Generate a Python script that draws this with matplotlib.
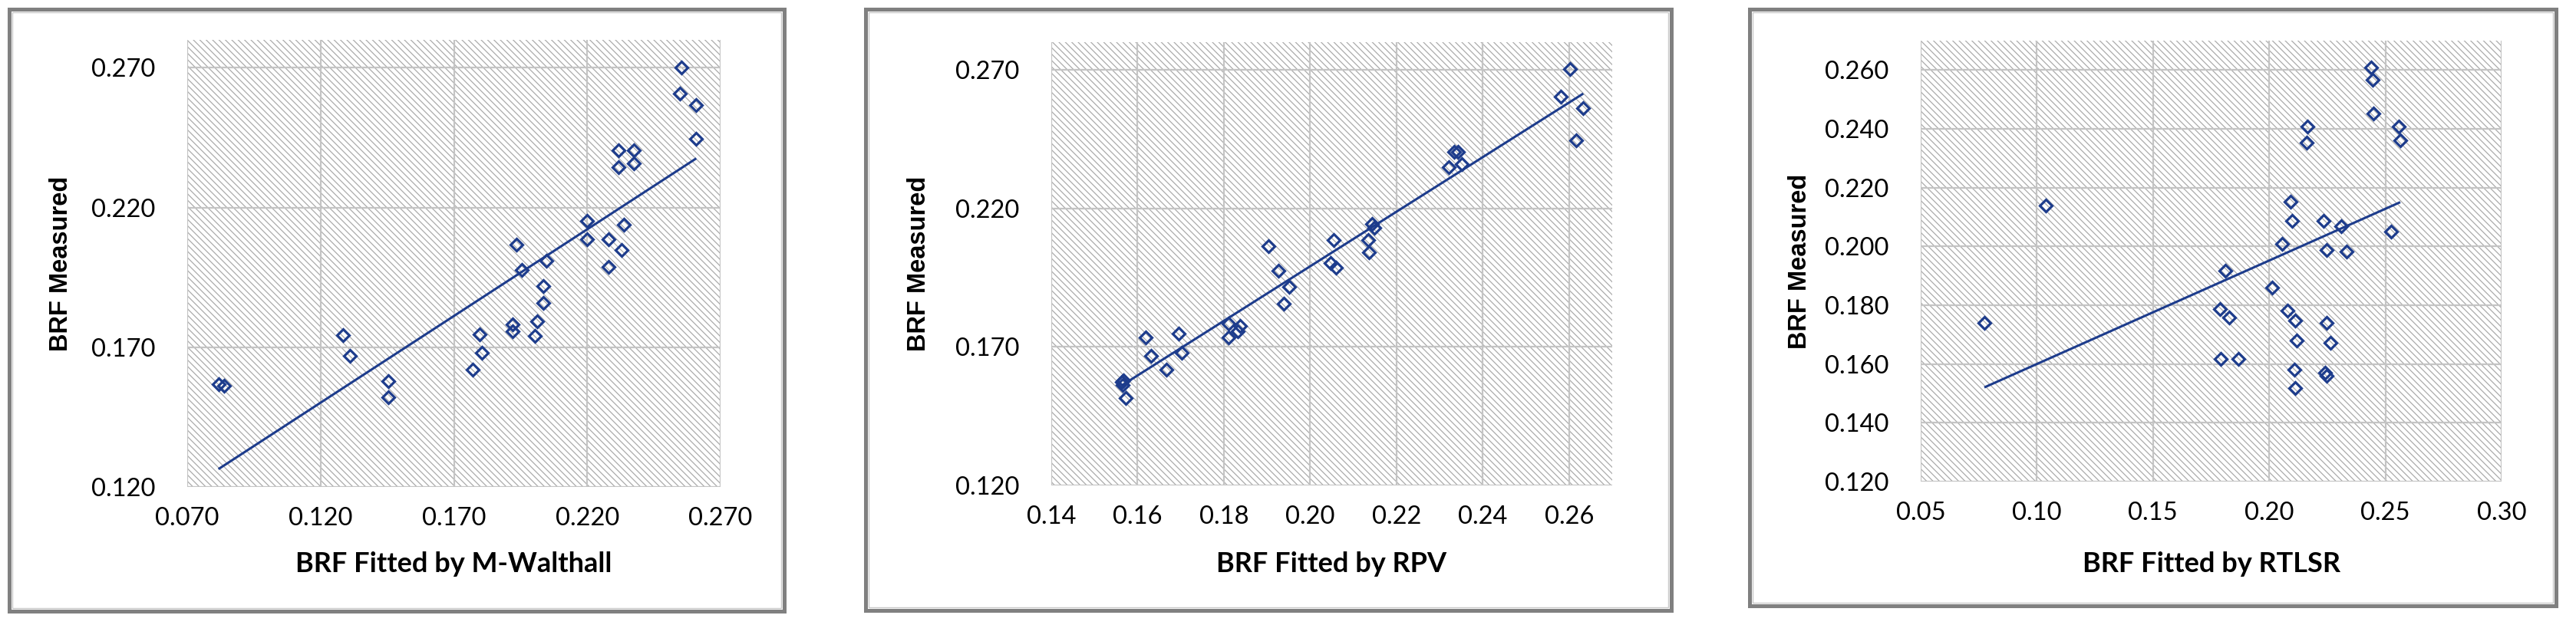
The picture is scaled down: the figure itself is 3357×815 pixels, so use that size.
import numpy as np
import matplotlib
matplotlib.use("Agg")
import matplotlib.pyplot as plt
from matplotlib.patches import Rectangle

# ---------------- data ----------------
mw_fitted = [0.0817, 0.0838, 0.1283, 0.1309, 0.1455, 0.1455, 0.1771, 0.1805,
             0.1797, 0.1920, 0.1920, 0.2005, 0.2012, 0.2036, 0.2036, 0.2048,
             0.1955, 0.1935, 0.2200, 0.2200, 0.2279, 0.2279, 0.2329, 0.2336,
             0.2316, 0.2316, 0.2376, 0.2376, 0.2554, 0.2548, 0.2609, 0.2609]
mw_measured = [0.1569, 0.1561, 0.1743, 0.1669, 0.1579, 0.1522, 0.1619, 0.1680,
               0.1747, 0.1783, 0.1757, 0.1740, 0.1793, 0.1859, 0.1920, 0.2009,
               0.1976, 0.2066, 0.2152, 0.2086, 0.2086, 0.1987, 0.2047, 0.2139,
               0.2406, 0.2345, 0.2406, 0.2357, 0.2700, 0.2607, 0.2568, 0.2446]

rpv_fitted = [0.1563, 0.1568, 0.1565, 0.1572, 0.1619, 0.1632, 0.1667, 0.1696,
              0.1702, 0.1811, 0.1811, 0.1837, 0.1833, 0.1904, 0.1926, 0.1951,
              0.1939, 0.2054, 0.2048, 0.2059, 0.2134, 0.2136, 0.2144, 0.2149,
              0.2322, 0.2334, 0.2343, 0.2352, 0.2581, 0.2602, 0.2616, 0.2633]
rpv_measured = [0.1573, 0.1580, 0.1563, 0.1516, 0.1735, 0.1669, 0.1619, 0.1748,
                0.1679, 0.1785, 0.1735, 0.1777, 0.1757, 0.2065, 0.1975, 0.1916,
                0.1857, 0.2087, 0.2004, 0.1986, 0.2087, 0.2041, 0.2144, 0.2130,
                0.2348, 0.2405, 0.2405, 0.2359, 0.2603, 0.2704, 0.2446, 0.2563]

rtlsr_fitted = [0.0774, 0.1038, 0.1787, 0.1826, 0.1812, 0.1792, 0.1866, 0.2012,
                0.2054, 0.2079, 0.2112, 0.2093, 0.2100, 0.2119, 0.2107, 0.2112,
                0.2165, 0.2161, 0.2235, 0.2246, 0.2311, 0.2332, 0.2246, 0.2262,
                0.2239, 0.2246, 0.2439, 0.2444, 0.2448, 0.2525, 0.2559, 0.2564]
rtlsr_measured = [0.1740, 0.2140, 0.1788, 0.1759, 0.1918, 0.1618, 0.1618, 0.1861,
                  0.2008, 0.1781, 0.1748, 0.2151, 0.2087, 0.1681, 0.1581, 0.1518,
                  0.2409, 0.2352, 0.2087, 0.1987, 0.2070, 0.1982, 0.1740, 0.1672,
                  0.1570, 0.1560, 0.2610, 0.2568, 0.2451, 0.2050, 0.2409, 0.2361]

# linear trendlines (slope, intercept)
mw_trend = [0.6205, 0.0757]
rpv_trend = [0.985, 0.0021]
rtlsr_trend = [0.352, 0.1248]

x_labels = ["BRF Fitted by M-Walthall", "BRF Fitted by RPV", "BRF Fitted by RTLSR"]
y_label = "BRF Measured"

p1_xticks = [0.070, 0.120, 0.170, 0.220, 0.270]
p1_yticks = [0.120, 0.170, 0.220, 0.270]
p2_xticks = [0.14, 0.16, 0.18, 0.20, 0.22, 0.24, 0.26]
p2_yticks = [0.120, 0.170, 0.220, 0.270]
p3_xticks = [0.05, 0.10, 0.15, 0.20, 0.25, 0.30]
p3_yticks = [0.120, 0.140, 0.160, 0.180, 0.200, 0.220, 0.240, 0.260]

# ---------------- figure ----------------
W, H = 3357, 815
DPI = 100
plt.rcParams['hatch.linewidth'] = 0.9
fig = plt.figure(figsize=(W / DPI, H / DPI), dpi=DPI)
fig.patch.set_facecolor('white')

NAVY = '#1d3c8c'
GRID = '#c4c4c4'
HATCH = '#ababab'

def px_rect(x0, y0, x1, y1):
    return [x0 / W, 1 - y1 / H, (x1 - x0) / W, (y1 - y0) / H]

panels = [
    dict(box=(12, 12, 1022, 797), plot=(244, 52, 939, 635), ylx=79,
         x=mw_fitted, y=mw_measured, trend=mw_trend, xlim=(0.07, 0.27), ylim=(0.12, 0.28),
         xt=p1_xticks, yt=p1_yticks, xf="{:.3f}", yf="{:.3f}", xl=x_labels[0]),
    dict(box=(1128, 12, 2178, 796), plot=(1370, 55, 2101, 633), ylx=1197,
         x=rpv_fitted, y=rpv_measured, trend=rpv_trend, xlim=(0.14, 0.27), ylim=(0.12, 0.28),
         xt=p2_xticks, yt=p2_yticks, xf="{:.2f}", yf="{:.3f}", xl=x_labels[1]),
    dict(box=(2280, 12, 3331, 790), plot=(2503, 53, 3260, 628), ylx=2345,
         x=rtlsr_fitted, y=rtlsr_measured, trend=rtlsr_trend, xlim=(0.05, 0.30), ylim=(0.12, 0.27),
         xt=p3_xticks, yt=p3_yticks, xf="{:.2f}", yf="{:.3f}", xl=x_labels[2]),
]

for p in panels:
    bx0, by0, bx1, by1 = p['box']
    fig.patches.append(Rectangle((bx0 / W, 1 - by1 / H), (bx1 - bx0) / W, (by1 - by0) / H,
                                 transform=fig.transFigure, fill=False,
                                 edgecolor='#808080', linewidth=3.6, zorder=0))
    fig.patches.append(Rectangle(((bx0 + 4) / W, 1 - (by1 - 4) / H), (bx1 - bx0 - 8) / W,
                                 (by1 - by0 - 8) / H, transform=fig.transFigure, fill=False,
                                 edgecolor='#c8c8c8', linewidth=1.0, zorder=0))

    ax = fig.add_axes(px_rect(*p['plot']))
    ax.patch.set_facecolor('white')
    ax.patch.set_hatch('\\\\\\\\')
    ax.patch.set_edgecolor(HATCH)
    ax.patch.set_linewidth(0)

    x = np.asarray(p['x'])
    y = np.asarray(p['y'])
    slope, inter = p['trend']
    xs = np.array([x.min(), x.max()])
    ax.plot(xs, slope * xs + inter, color=NAVY, lw=2.2, zorder=3, solid_capstyle='butt')
    ax.plot(x, y, linestyle='none', marker='D', markersize=8.4,
            markerfacecolor='none', markeredgecolor=NAVY, markeredgewidth=2.3, zorder=4)

    ax.set_xlim(*p['xlim'])
    ax.set_ylim(*p['ylim'])
    ax.set_xticks(p['xt'])
    ax.set_yticks(p['yt'])
    ax.set_xticklabels([p['xf'].format(v) for v in p['xt']])
    ax.set_yticklabels([p['yf'].format(v) for v in p['yt']])
    for s in ax.spines.values():
        s.set_visible(False)
    ax.grid(True, color=GRID, linewidth=1.6)
    ax.set_axisbelow(True)
    ax.tick_params(axis='both', length=0, labelsize=23.5, labelcolor='black')
    ax.tick_params(axis='x', pad=19)
    ax.tick_params(axis='y', pad=30)
    for lab in ax.get_xticklabels() + ax.get_yticklabels():
        lab.set_fontfamily(['Lato', 'DejaVu Sans'])

    pl = p['plot']
    ph = pl[3] - pl[1]
    pw = pl[2] - pl[0]
    ax.set_xlabel(p['xl'], fontsize=26, fontweight='bold', family=['Lato', 'DejaVu Sans'])
    ax.xaxis.set_label_coords(0.5, -(736 - pl[3]) / ph)
    ax.xaxis.label.set_va('center')
    ax.set_ylabel(y_label, fontsize=23.5, fontweight='bold', family=['Liberation Sans', 'DejaVu Sans'])
    ax.yaxis.set_label_coords(-(pl[0] - p['ylx']) / pw, 0.5)
    ax.yaxis.label.set_va('center')

fig.savefig('out.png', dpi=DPI, facecolor='white')
